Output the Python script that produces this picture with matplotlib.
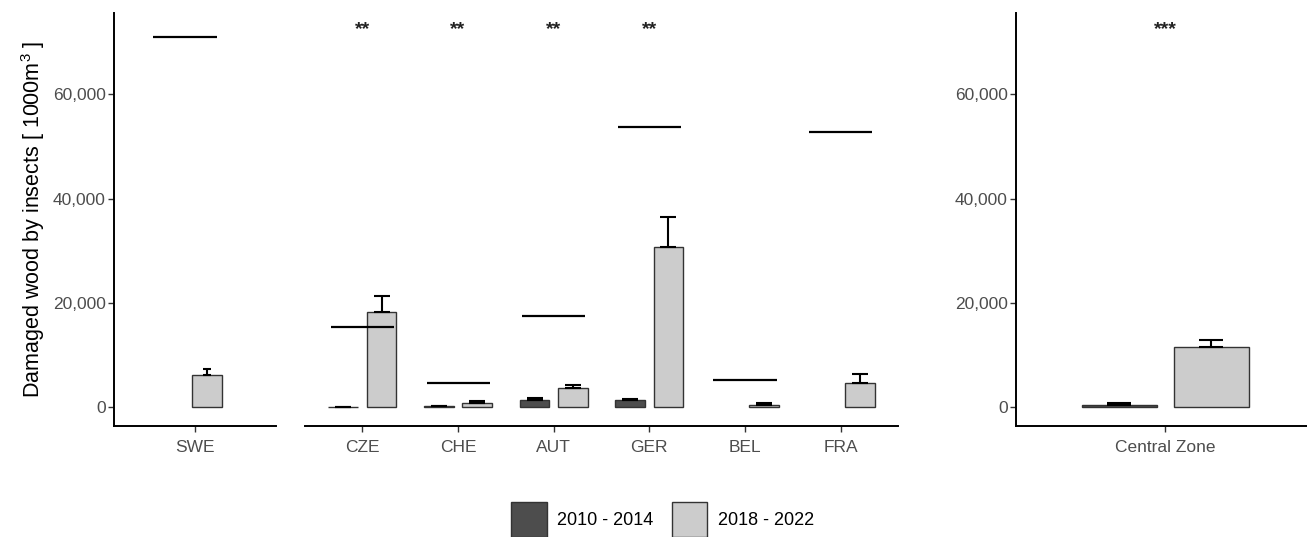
import matplotlib
matplotlib.use("Agg")
import matplotlib.pyplot as plt
from matplotlib.ticker import FuncFormatter
from matplotlib.patches import Patch
import numpy as np

plt.rcParams['font.family'] = ['Liberation Sans', 'DejaVu Sans']
plt.rcParams['mathtext.fontset'] = 'custom'
plt.rcParams['mathtext.rm'] = 'Liberation Sans'

# data (1000 m3)
countries = ["CZE", "CHE", "AUT", "GER", "BEL", "FRA"]
early = [100, 200, 1450, 1450, np.nan, np.nan]      # 2010 - 2014
early_se = [0, 100, 300, 100, np.nan, np.nan]
late = [18250, 750, 3600, 30700, 500, 4650]          # 2018 - 2022
late_se = [3000, 400, 750, 5700, 300, 1800]
ref_line = [15300, 4550, 17400, 53800, 5150, 52800]
stars = ["**", "**", "**", "**", "", ""]

swe_late = 6100
swe_late_se = 1150
swe_line = 70900

cz_early = 500
cz_early_se = 400
cz_late = 11450
cz_late_se = 1500
cz_stars = "***"

dark = "#4d4d4d"
light = "#cccccc"
edge = "#333333"
tick_col = "#4d4d4d"
ylim = (-3600, 75500)
star_y = 72300

fig = plt.figure(figsize=(13.07, 5.37), dpi=100)
ax1 = fig.add_axes([0.0872, 0.2067, 0.124, 0.7685])
ax2 = fig.add_axes([0.2334, 0.2067, 0.4537, 0.7685])
ax3 = fig.add_axes([0.7774, 0.2067, 0.2226, 0.7685])

fmt = FuncFormatter(lambda v, p: f"{v:,.0f}")

def style(ax, yaxis=True):
    for s in ["top", "right"]:
        ax.spines[s].set_visible(False)
    ax.spines["bottom"].set_linewidth(1.4)
    ax.spines["left"].set_linewidth(1.4)
    ax.set_ylim(*ylim)
    ax.tick_params(axis="x", length=4, width=1, colors="#333333",
                   labelcolor=tick_col, labelsize=12.5, pad=6)
    if yaxis:
        ax.set_yticks([0, 20000, 40000, 60000])
        ax.yaxis.set_major_formatter(fmt)
        ax.tick_params(axis="y", length=4, width=1, colors="#333333",
                       labelcolor=tick_col, labelsize=12.5, pad=2)
    else:
        ax.spines["left"].set_visible(False)
        ax.set_yticks([])

# SWE panel
style(ax1)
ax1.set_xlim(-0.84, 0.85)
ax1.bar(0.13, swe_late, 0.31, color=light, edgecolor=edge, linewidth=1)
ax1.errorbar(0.13, swe_late, yerr=[[0], [swe_late_se]], fmt="none",
             ecolor="black", elinewidth=1.5, capsize=3, capthick=1.5)
ax1.hlines(swe_line, -0.43, 0.23, color="black", linewidth=1.6)
ax1.set_xticks([0])
ax1.set_xticklabels(["SWE"])
ax1.set_ylabel(r"Damaged wood by insects [ 1000m$^{3}$ ]", fontsize=15.5,
               labelpad=4)

# countries panel
style(ax2, yaxis=False)
x = np.arange(len(countries))
ax2.set_xlim(-0.6, len(countries) - 0.4)
ax2.bar(x - 0.2, early, 0.31, color=dark, edgecolor=edge, linewidth=1)
ax2.bar(x + 0.2, late, 0.31, color=light, edgecolor=edge, linewidth=1)
ax2.errorbar(x - 0.2, early, yerr=[np.zeros(len(x)), early_se], fmt="none",
             ecolor="black", elinewidth=1.5, capsize=5.5, capthick=1.5)
ax2.errorbar(x + 0.2, late, yerr=[np.zeros(len(x)), late_se], fmt="none",
             ecolor="black", elinewidth=1.5, capsize=5.5, capthick=1.5)
ax2.hlines(ref_line, x - 0.33, x + 0.33, color="black", linewidth=1.6)
for xi, s in zip(x, stars):
    if s:
        ax2.text(xi, star_y, s, ha="center", va="center", fontsize=14,
                 fontweight="bold", color="#222222")
ax2.set_xticks(x)
ax2.set_xticklabels(countries)

# Central Zone panel
style(ax3)
ax3.set_xlim(-0.616, 0.586)
ax3.bar(-0.19, cz_early, 0.31, color=dark, edgecolor=edge, linewidth=1)
ax3.bar(0.19, cz_late, 0.31, color=light, edgecolor=edge, linewidth=1)
ax3.errorbar([-0.19, 0.19], [cz_early, cz_late],
             yerr=[[0, 0], [cz_early_se, cz_late_se]], fmt="none",
             ecolor="black", elinewidth=1.5, capsize=8.5, capthick=1.5)
ax3.text(0, star_y, cz_stars, ha="center", va="center", fontsize=14,
         fontweight="bold", color="#222222")
ax3.set_xticks([0])
ax3.set_xticklabels(["Central Zone"])

handles = [Patch(facecolor=dark, edgecolor=edge, label="2010 - 2014"),
           Patch(facecolor=light, edgecolor=edge, label="2018 - 2022")]
fig.legend(handles=handles, loc="center", bbox_to_anchor=(0.507, 0.032),
           ncol=2, frameon=False, fontsize=13, handlelength=1.95,
           handleheight=2.6, columnspacing=1.0, handletextpad=0.6)

fig.savefig("out.png", dpi=100)
